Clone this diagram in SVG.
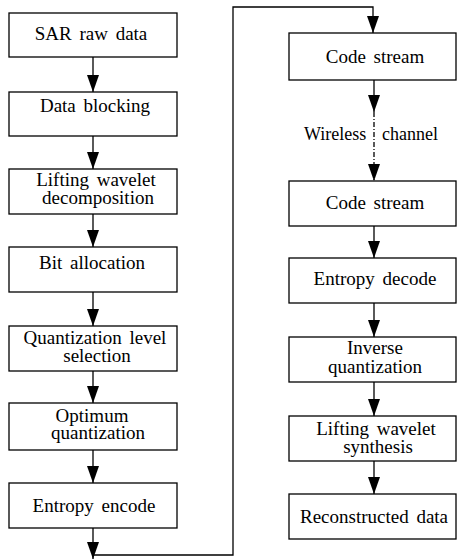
<svg xmlns="http://www.w3.org/2000/svg" width="457" height="560" viewBox="0 0 457 560">
<style>
.box{fill:#fff;stroke:#000;stroke-width:1.3}
.t{font-family:"Liberation Serif","Times New Roman",serif;font-size:19px;fill:#000;text-anchor:middle;word-spacing:3px}
.lbl{font-family:"Liberation Serif","Times New Roman",serif;font-size:18px;fill:#000}
.c{fill:none;stroke:#000;stroke-width:1.3}
.dd{stroke-dasharray:5,2,1,2}
</style>
<defs>
<marker id="ah" markerUnits="userSpaceOnUse" markerWidth="17" markerHeight="12" viewBox="0 0 17 12" refX="17" refY="6" orient="auto">
<path d="M0,0 L17,6 L0,12 z" fill="#000"/>
</marker>
</defs>
<rect width="457" height="560" fill="#fff"/>
<g id="connectors">
<line class="c" x1="93" y1="57" x2="93" y2="92" marker-end="url(#ah)"/>
<line class="c" x1="93" y1="136" x2="93" y2="169" marker-end="url(#ah)"/>
<line class="c" x1="93" y1="214" x2="93" y2="247" marker-end="url(#ah)"/>
<line class="c" x1="93" y1="292" x2="93" y2="326" marker-end="url(#ah)"/>
<line class="c" x1="93" y1="371" x2="93" y2="403" marker-end="url(#ah)"/>
<line class="c" x1="93" y1="450" x2="93" y2="483" marker-end="url(#ah)"/>
<line class="c" x1="93" y1="528" x2="93" y2="559" marker-end="url(#ah)"/>
<polyline class="c" points="93,555 233,555 233,7 373,7 373,33" marker-end="url(#ah)"/>
<line class="c" x1="374" y1="80" x2="374" y2="112" marker-end="url(#ah)"/>
<line class="c dd" x1="374" y1="112" x2="374" y2="181" marker-end="url(#ah)"/>
<text class="lbl" x="304" y="140">Wireless</text>
<text class="lbl" x="382" y="140">channel</text>
<line class="c" x1="374" y1="226" x2="374" y2="258" marker-end="url(#ah)"/>
<line class="c" x1="374" y1="303" x2="374" y2="337" marker-end="url(#ah)"/>
<line class="c" x1="374" y1="382" x2="374" y2="416" marker-end="url(#ah)"/>
<line class="c" x1="374" y1="461" x2="374" y2="494" marker-end="url(#ah)"/>
</g>
<g id="sar-raw-data"><rect class="box" x="9" y="13" width="168" height="44"/><text class="t" x="91" y="40">SAR raw data</text></g>
<g id="data-blocking"><rect class="box" x="9" y="92" width="168" height="44"/><text class="t" x="95" y="112">Data blocking</text></g>
<g id="lifting-decomposition"><rect class="box" x="9" y="169" width="168" height="45"/><text class="t" x="96" y="186">Lifting wavelet</text><text class="t" x="98" y="204">decomposition</text></g>
<g id="bit-allocation"><rect class="box" x="9" y="247" width="168" height="45"/><text class="t" x="92" y="269">Bit allocation</text></g>
<g id="quantization-level"><rect class="box" x="9" y="326" width="168" height="45"/><text class="t" x="95" y="344">Quantization level</text><text class="t" x="97" y="362">selection</text></g>
<g id="optimum-quantization"><rect class="box" x="9" y="403" width="168" height="47"/><text class="t" x="92" y="422">Optimum</text><text class="t" x="98" y="439">quantization</text></g>
<g id="entropy-encode"><rect class="box" x="9" y="483" width="168" height="45"/><text class="t" x="94" y="512">Entropy encode</text></g>
<g id="code-stream-1"><rect class="box" x="289" y="33" width="167" height="47"/><text class="t" x="375" y="63">Code stream</text></g>
<g id="code-stream-2"><rect class="box" x="289" y="181" width="167" height="45"/><text class="t" x="375" y="209">Code stream</text></g>
<g id="entropy-decode"><rect class="box" x="289" y="258" width="167" height="45"/><text class="t" x="375" y="285">Entropy decode</text></g>
<g id="inverse-quantization"><rect class="box" x="289" y="337" width="167" height="45"/><text class="t" x="375" y="354">Inverse</text><text class="t" x="375" y="373">quantization</text></g>
<g id="lifting-synthesis"><rect class="box" x="289" y="416" width="167" height="45"/><text class="t" x="376" y="435">Lifting wavelet</text><text class="t" x="378" y="453">synthesis</text></g>
<g id="reconstructed-data"><rect class="box" x="289" y="494" width="167" height="45"/><text class="t" x="374" y="523">Reconstructed data</text></g>
</svg>
